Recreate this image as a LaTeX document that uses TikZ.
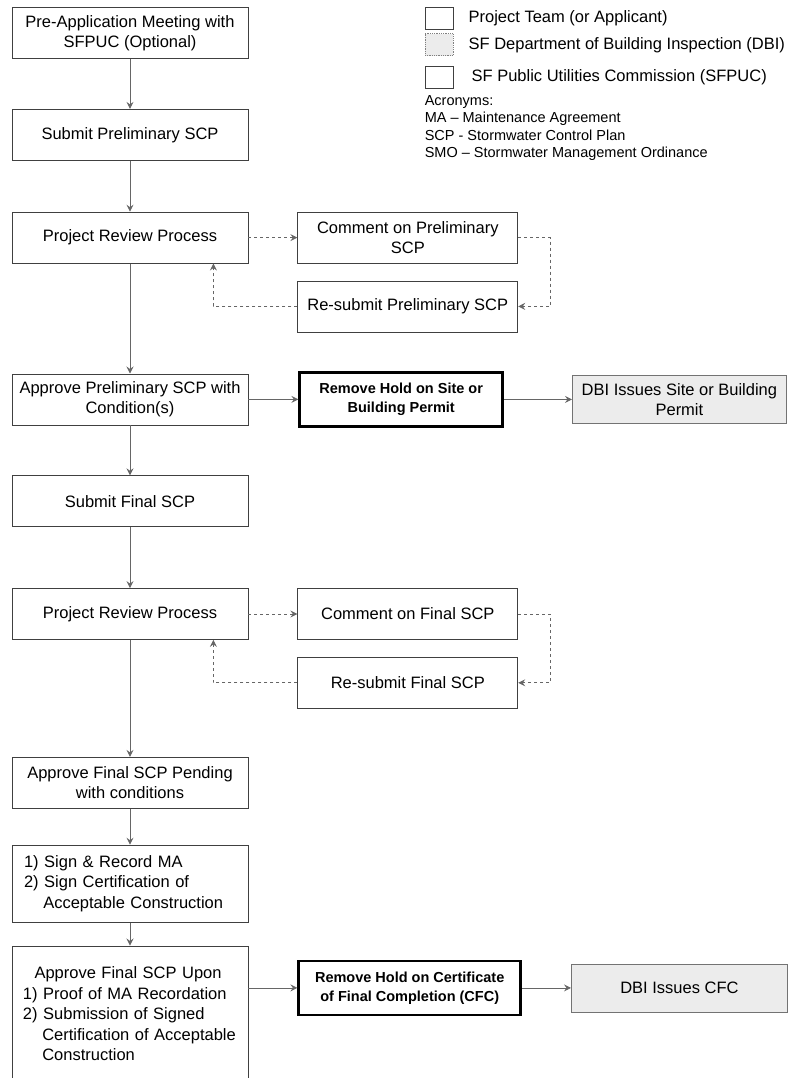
\documentclass[tikz,border=0pt]{standalone}
\usepackage{fontspec}
\setmainfont{Liberation Sans}
\usepackage{tikz}
\usetikzlibrary{arrows.meta, positioning}
\definecolor{dbigray}{RGB}{236,236,236}
\newcommand{\boxfont}{\fontsize{16.5}{20.5}\selectfont}

\begin{document}
\begin{tikzpicture}[
    x=1pt, y=-1pt,
    proc/.style={rectangle, draw=black!75, line width=0.8pt, minimum width=236pt, minimum height=51pt, align=center, font=\boxfont, inner sep=4pt},
    side/.style={proc, minimum width=220pt},
    hold/.style={rectangle, draw, line width=2.6pt, minimum width=203pt, minimum height=54pt, align=center, font=\fontsize{14.5}{19}\selectfont\bfseries},
    dbi/.style={proc, fill=dbigray, draw=black!55, minimum width=214pt, minimum height=48pt},
    flow/.style={-{Stealth[length=7pt,width=7pt,inset=2.5pt]}, black!60, line width=0.8pt},
    review/.style={flow, dashed},
    legbox/.style={rectangle, draw=black!75, line width=0.8pt, minimum width=28pt, minimum height=22pt, inner sep=0pt},
    legtext/.style={font=\fontsize{16.5}{19}\selectfont, inner sep=0pt},
    acro/.style={font=\fontsize{14.5}{17.5}\selectfont, align=left, inner sep=0pt},
]
\useasboundingbox (0,0) rectangle (789,1078);

\node[proc] (preapp) at (130,33) {Pre-Application Meeting with\\SFPUC (Optional)};
\node[proc, below=50pt of preapp] (submitpre) {Submit Preliminary SCP};
\node[proc, below=51pt of submitpre] (review1) {Project Review Process};
\node[side, right=49pt of review1] (commentpre) {Comment on Preliminary\\SCP};
\node[side, below=17pt of commentpre] (resubpre) {Re-submit Preliminary SCP};
\node[proc, below=110pt of review1] (approvepre) {Approve Preliminary SCP with\\Condition(s)};
\node[hold, right=50pt of approvepre] (hold1) {Remove Hold on Site or\\Building Permit};
\node[dbi, right=68pt of hold1] (dbi1) {DBI Issues Site or Building\\Permit};
\node[proc, below=50pt of approvepre] (submitfin) {Submit Final SCP};
\node[proc, below=61pt of submitfin] (review2) {Project Review Process};
\node[side, right=49pt of review2] (commentfin) {Comment on Final SCP};
\node[side, below=17pt of commentfin] (resubfin) {Re-submit Final SCP};
\node[proc, below=117pt of review2] (pending) {Approve Final SCP Pending\\with conditions};
\node[proc, minimum height=77pt, text width=212pt, align=left, below=36pt of pending] (sign) {1) Sign \& Record MA\\2) Sign Certification of\\\hspace*{1.17em}Acceptable Construction};
\node[proc, minimum height=136pt, text width=214pt, align=left, below=23pt of sign] (upon) {\hspace*{0.7em}Approve Final SCP Upon\\1) Proof of MA Recordation\\2) Submission of Signed\\\hspace*{1.17em}Certification of Acceptable\\\hspace*{1.17em}Construction};
\node[hold, minimum width=222pt, right=49pt of upon, yshift=26pt] (hold2) {Remove Hold on Certificate\\of Final Completion (CFC)};
\node[dbi, minimum width=216pt, right=49pt of hold2] (dbi2) {DBI Issues CFC};

\node[legbox] (legteam) at (439,18) {};
\node[legbox, fill=dbigray, draw=black!50, densely dotted, below=4pt of legteam] (legdbi) {};
\node[legbox, below=10pt of legdbi] (legpuc) {};
\node[legtext, right=15pt of legteam] (txtteam) {Project Team (or Applicant)};
\node[legtext, right=15pt of legdbi] (txtdbi) {SF Department of Building Inspection (DBI)};
\node[legtext, right=18pt of legpuc] (txtpuc) {SF Public Utilities Commission (SFPUC)};
\node[acro, below=6pt of legpuc.south west, anchor=north west] (acronyms) {Acronyms:\\MA -- Maintenance Agreement\\SCP - Stormwater Control Plan\\SMO -- Stormwater Management Ordinance};

\draw[flow] (preapp) -- (submitpre);
\draw[flow] (submitpre) -- (review1);
\draw[review] (review1) -- (commentpre);
\draw[review] (commentpre.east) -- ++(32,0) |- (resubpre.east);
\draw[review] (resubpre.west) -| ([xshift=-35pt]review1.south east);
\draw[flow] (review1) -- (approvepre);
\draw[flow] (approvepre) -- (hold1);
\draw[flow] (hold1) -- (dbi1);
\draw[flow] (approvepre) -- (submitfin);
\draw[flow] (submitfin) -- (review2);
\draw[review] (review2) -- (commentfin);
\draw[review] (commentfin.east) -- ++(32,0) |- (resubfin.east);
\draw[review] (resubfin.west) -| ([xshift=-35pt]review2.south east);
\draw[flow] (review2) -- (pending);
\draw[flow] (pending) -- (sign);
\draw[flow] (sign) -- (upon);
\draw[flow] (upon.east |- hold2.west) -- (hold2.west);
\draw[flow] (hold2) -- (dbi2);

\end{tikzpicture}
\end{document}
